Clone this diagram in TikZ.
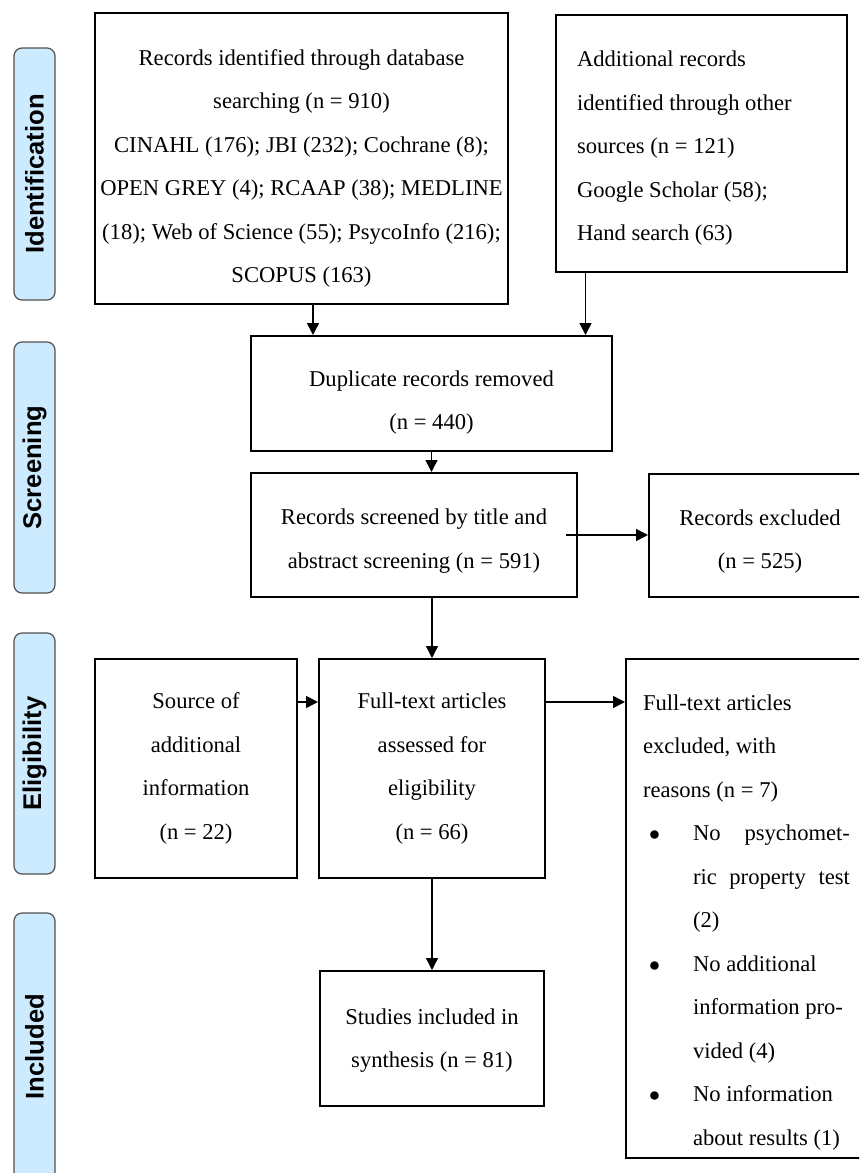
\documentclass[tikz,border=0pt]{standalone}
\usepackage{fontspec}
\setmainfont{Liberation Serif}
\newfontfamily\stagefont{Liberation Sans}
\usetikzlibrary{arrows.meta}

\definecolor{stagebg}{RGB}{204,235,255}
\definecolor{stageline}{RGB}{80,80,80}

\newcommand{\bul}{\makebox[25pt][l]{\hspace{3pt}$\bullet$}}
\newcommand{\ind}{\hspace*{25pt}}

\begin{document}
\begin{tikzpicture}[
  x=0.5pt, y=-0.5pt,
  font=\fontsize{11.3}{21.75}\selectfont,
  box/.style={draw, line width=1pt, align=flush center, inner sep=0pt},
  sink/.style={execute at begin node={\rule{0pt}{\dimexpr 7.7pt+#1pt\relax}}},
  stage/.style={draw=stageline, fill=stagebg, rounded corners=4pt, line width=0.6pt,
    rotate=90, minimum height=20.5pt, inner sep=0pt,
    font=\stagefont\bfseries\fontsize{12.8}{14}\selectfont},
  arr/.style={-{Triangle[length=6pt,width=6pt]}, line width=0.75pt}
]
  \useasboundingbox (0,0) rectangle (859,1173);
  \clip (0,0) rectangle (859,1173);

  % stages
  \node[stage, minimum width=126pt] (sid) at (34.5,174) {Identification};
  \node[stage, minimum width=125.5pt] (sscr) at (34.5,467.5) {Screening};
  \node[stage, minimum width=120.5pt] (selig) at (34.5,753.5) {Eligibility};
  \node[stage, minimum width=133.5pt] (sinc) at (34.5,1046.5) {Included};

  % boxes
  \node[box, sink=10, text width=206.5pt, minimum height=145.5pt] (db) at (301.5,158.5)
    {Records identified through database\\ searching (n = 910)\\
     CINAHL (176); JBI (232); Cochrane (8);\\ OPEN GREY (4); RCAAP (38); MEDLINE\\
     (18); Web of Science (55); PsycoInfo (216);\\ SCOPUS (163)};
  \node[box, sink=5, align=flush left, text width=124.5pt, inner xsep=10.5pt, minimum height=128.5pt] (other) at (701.5,143.5)
    {Additional records\\ identified through other\\ sources (n = 121)\\
     Google Scholar (58);\\ Hand search (63)};
  \node[box, sink=9, text width=180.5pt, minimum height=57.5pt] (dup) at (431.5,393.5)
    {Duplicate records removed\\ (n = 440)};
  \node[box, sink=6, text width=163pt, minimum height=62pt] (scr) at (414,535)
    {Records screened by title and\\ abstract screening (n = 591)};
  \node[box, sink=6, text width=111pt, minimum height=61.5pt] (excl) at (760,535.5)
    {Records excluded\\ (n = 525)};
  \node[box, text width=101pt, minimum height=109.5pt] (source) at (196,768.5)
    {Source of\\ additional\\ information\\ (n = 22)};
  \node[box, text width=113pt, minimum height=109.5pt] (full) at (432,768.5)
    {Full-text articles\\ assessed for\\ eligibility\\ (n = 66)};
  \node[box, sink=14, align=flush left, text width=103.5pt, inner xsep=8.5pt, minimum height=249.5pt] (reasons) at (746.5,908.5)
    {Full-text articles\\ excluded, with\\ reasons (n = 7)\\
     \bul\makebox[78.5pt][l]{No\hfill psychomet-}\\
     \ind\makebox[78.5pt][l]{ric\hfill property\hfill test}\\
     \ind(2)\\
     \bul No additional\\
     \ind information pro-\\
     \ind vided (4)\\
     \bul No information\\
     \ind about results (1)};
  \node[box, sink=2, text width=112pt, minimum height=67.5pt] (studies) at (432,1038.5)
    {Studies included in\\ synthesis (n = 81)};

  % arrows
  \draw[arr] ([xshift=5.75pt]db.south) -- ([xshift=5.75pt]db.south |- dup.north);
  \draw[arr] ([xshift=-58pt]other.south) -- ([xshift=-58pt]other.south |- dup.north);
  \draw[arr] (dup.south) -- (dup.south |- scr.north);
  \draw[arr] ([xshift=-6pt]scr.east) -- (scr.east -| excl.west);
  \draw[arr] (full.north |- scr.south) -- (full.north);
  \draw[arr] ([yshift=33.25pt]source.east) -- ([yshift=33.25pt]source.east -| full.west);
  \draw[arr] ([yshift=33.25pt]full.east) -- ([yshift=33.25pt]full.east -| reasons.west);
  \draw[arr] (full.south) -- (studies.north);
\end{tikzpicture}
\end{document}
